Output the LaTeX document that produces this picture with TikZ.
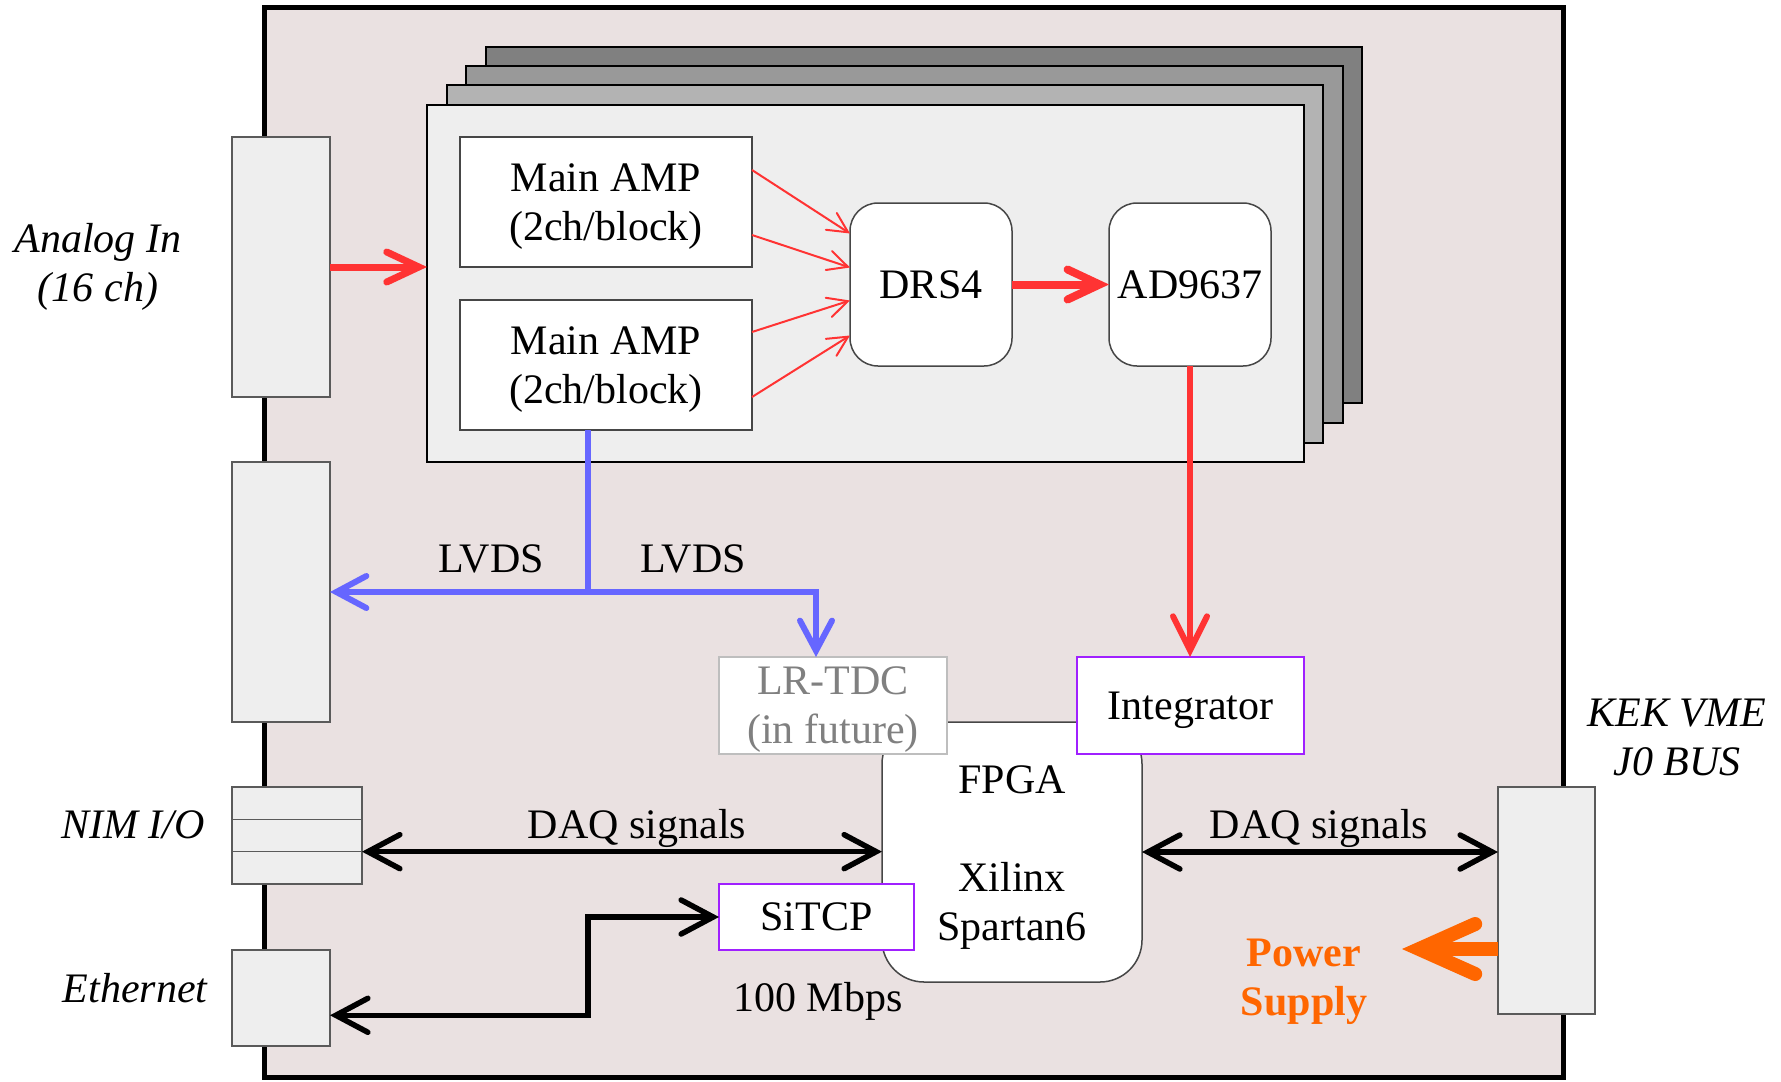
\documentclass[tikz,border=0pt]{standalone}
\usepackage{fontspec}
\setmainfont{Liberation Serif}
\usetikzlibrary{arrows.meta,calc,fit}

\definecolor{boardfill}{RGB}{234,225,225}
\definecolor{panelfill}{RGB}{238,238,238}
\definecolor{layerA}{RGB}{179,179,179}
\definecolor{layerB}{RGB}{153,153,153}
\definecolor{layerC}{RGB}{128,128,128}
\definecolor{portedge}{RGB}{90,90,90}
\definecolor{blockedge}{RGB}{70,70,70}
\definecolor{sigred}{RGB}{255,51,51}
\definecolor{lvdsblue}{RGB}{102,102,255}
\definecolor{pwrorange}{RGB}{255,102,0}
\definecolor{logicedge}{RGB}{160,32,255}
\definecolor{futureedge}{RGB}{190,190,190}
\definecolor{futuretext}{RGB}{128,128,128}

\tikzset{
  redhead/.tip={Straight Barb[length=16pt, width=15pt, line cap=round, line join=miter]},
  drophead/.tip={Straight Barb[length=17pt, width=17pt, line cap=round, line join=miter]},
  thinhead/.tip={Straight Barb[length=10pt, width=10pt, line cap=round, line join=miter]},
  bluehead/.tip={Straight Barb[length=15pt, width=16pt, line cap=round, line join=miter]},
  daqhead/.tip={Straight Barb[length=16pt, width=17pt, line cap=round, line join=miter]},
  pwrhead/.tip={Straight Barb[length=28pt, width=25pt, line cap=round, line join=miter]}
}

\begin{document}
\begin{tikzpicture}[x=0.5pt,y=-0.5pt,
  every node/.style={inner sep=0pt, outer sep=0pt, text depth=0pt},
  font=\fontsize{21}{24.5}\selectfont,
  boardbox/.style={draw=black, line width=2.5pt, fill=boardfill},
  layer/.style={draw=black, line width=0.75pt},
  port/.style={draw=portedge, fill=panelfill, line width=0.75pt},
  block/.style={draw=blockedge, fill=white, line width=0.75pt, align=center},
  ampbox/.style={block, minimum width=146pt, minimum height=65pt},
  chip/.style={block, rounded corners=14pt, minimum width=81pt, minimum height=81.5pt},
  fpgabox/.style={block, rounded corners=21pt},
  futurebox/.style={draw=futureedge, fill=white, line width=0.75pt, text=futuretext, align=center},
  logicbox/.style={draw=logicedge, fill=white, line width=0.75pt, align=center},
  portlabel/.style={font=\fontsize{21}{24.5}\selectfont\itshape, align=center},
  powerlbl/.style={font=\fontsize{21}{24.5}\selectfont\bfseries, text=pwrorange, align=center},
  redbus/.style={draw=sigred, line width=3.5pt, -redhead},
  redthin/.style={draw=sigred, line width=1pt, -thinhead},
  lvds/.style={draw=lvdsblue, line width=3pt},
  lvdsarrow/.style={lvds, -bluehead},
  daq/.style={draw=black, line width=2.75pt, daqhead-daqhead},
  power/.style={draw=pwrorange, line width=7pt, -pwrhead}
]
\useasboundingbox (0,0) rectangle (1781,1081);

% board outline
\node[boardbox, fit={(264,8) (1563,1077)}] (board) {};

% stacked front-end layers (back to front)
\node[layer, fill=layerC, fit={(486,47) (1362,403)}] (layer3) {};
\node[layer, fill=layerB, fit={(466,66) (1343,423)}] (layer2) {};
\node[layer, fill=layerA, fit={(447,85) (1323,443)}] (layer1) {};
\node[layer, fill=panelfill, fit={(427,105) (1304,462)}] (front) {};

% front-panel and backplane connectors
\node[port, fit={(232,137) (330,397)}] (analog) {};
\node[port, fit={(232,462) (330,722)}] (lvdsport) {};
\node[port, fit={(232,787) (362,884)}] (nim) {};
\node[port, fit={(232,950) (330,1046)}] (ether) {};
\node[port, fit={(1498,787) (1595,1014)}] (vme) {};
\draw[portedge, line width=0.75pt] ($(nim.north west)!1/3!(nim.south west)$) -- ($(nim.north east)!1/3!(nim.south east)$);
\draw[portedge, line width=0.75pt] ($(nim.north west)!2/3!(nim.south west)$) -- ($(nim.north east)!2/3!(nim.south east)$);

% analog chain
\node[ampbox] (amp1) at (606,202) {Main AMP\\(2ch/block)};
\node[ampbox] (amp2) at (606,365) {Main AMP\\(2ch/block)};
\node[chip] (drs) at (931,284.5) {DRS4};
\node[chip] (adc) at (1190,284.5) {AD9637};

% FPGA and its blocks
\node[fpgabox, fit={(882,722) (1142,982)}] (fpga) {};
\node[anchor=base] (fpgalbl) at (1012,793) {FPGA};
\node[align=center] (fpgadev) at (1012,901.5) {Xilinx\\Spartan6};
\node[futurebox, minimum width=114pt, minimum height=48.5pt] (tdc) at (833,705.5) {LR-TDC\\(in future)};
\node[logicbox, minimum width=113.5pt, minimum height=48.5pt] (integ) at (1190.5,705.5) {Integrator};
\node[logicbox, minimum width=97.5pt, minimum height=33pt] (sitcp) at (816.5,917) {SiTCP};

% port labels
\node[portlabel] (analoglbl) at (98,262.5) {Analog In\\(16 ch)};
\node[portlabel, anchor=base] (nimlbl) at (133,838) {NIM I/O};
\node[portlabel, anchor=base] (ethlbl) at (135,1002) {Ethernet};
\node[portlabel] (vmelbl) at (1677,737.5) {KEK VME\\J0 BUS};
\node[powerlbl] (pwrlbl) at (1304,977.5) {Power\\Supply};

% signal labels
\node[anchor=base] (lvdsleft) at (491,572) {LVDS};
\node[anchor=base] (lvdsright) at (693,572) {LVDS};
\node[anchor=base] (daqleft) at (637,838) {DAQ signals};
\node[anchor=base] (daqright) at (1319,838) {DAQ signals};
\node[anchor=base] (rate) at (818,1011) {100 Mbps};

% analog signal path
\draw[redbus] (analog.east) -- (analog.east -| front.west);
\draw[redthin] ($(amp1.east)+(0,-32)$) -- ($(drs.west)+(0,-51)$);
\draw[redthin] ($(amp1.east)+(0,33)$) -- ($(drs.west)+(0,-17)$);
\draw[redthin] ($(amp2.east)+(0,-33)$) -- ($(drs.west)+(0,16)$);
\draw[redthin] ($(amp2.east)+(0,32)$) -- ($(drs.west)+(0,51)$);
\draw[redbus, line width=4pt] (drs) -- (adc);
\draw[draw=sigred, line width=3pt, -drophead] (adc.south) -- (adc.south |- integ.north);

% LVDS discriminator outputs
\coordinate (lvdsjoin) at (588,592);
\draw[lvds] ($(amp2.south)+(-18,0)$) -- (lvdsjoin);
\draw[lvdsarrow] (lvdsjoin) -- (lvdsport.east);
\draw[lvdsarrow] (lvdsjoin) -| ($(tdc.north)+(-17,0)$);

% DAQ and network links
\coordinate (nimio) at ($(nim.north east)!2/3!(nim.south east)$);
\draw[daq] (nimio) -- (nimio -| fpga.west);
\draw[daq] (fpga.east) -- (fpga.east -| vme.west);
\coordinate (ethio) at ($(ether.north east)!0.68!(ether.south east)$);
\draw[daq, line join=miter] (sitcp.west) -- ++(-131,0) |- (ethio);

% power feed from the backplane
\coordinate (pwrtip) at (1402,949);
\draw[power] (vme.west |- pwrtip) -- (pwrtip);
\end{tikzpicture}
\end{document}
